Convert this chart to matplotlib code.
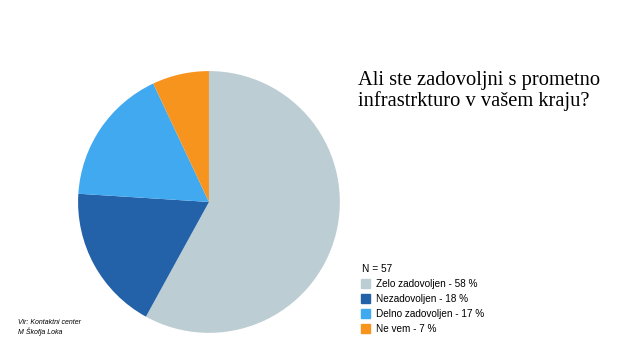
import matplotlib
matplotlib.use("Agg")
import matplotlib.pyplot as plt
from matplotlib.patches import Patch

# Data
labels = ["Zelo zadovoljen", "Nezadovoljen", "Delno zadovoljen", "Ne vem"]
shares = [58, 18, 17, 7]
colors = ["#bccdd3", "#2361a8", "#40a9f0", "#f7941e"]
title = "Ali ste zadovoljni s prometno\ninfrastrkturo v vašem kraju?"
n_label = "N = 57"
source = "Vir: Kontaktni center\nM Škofja Loka"

fig = plt.figure(figsize=(6.4, 3.6), dpi=100)
fig.patch.set_facecolor("white")

ax = fig.add_axes([0.122, 0.075, 0.409, 0.728])
ax.pie(shares, colors=colors, startangle=90, counterclock=False,
       wedgeprops=dict(linewidth=0))
ax.set_xlim(-1, 1)
ax.set_ylim(-1, 1)
ax.set_aspect("equal")

fig.text(0.559, 0.803, title, fontsize=14.8, family="Liberation Serif",
         va="top", ha="left", linespacing=1.05)

# Legend
fig.text(0.566, 0.254, n_label, fontsize=7.3, family="Liberation Sans",
         va="center", ha="left")
handles = [Patch(color=c, label=f"{l} - {s} %") for l, s, c in zip(labels, shares, colors)]
fig.legend(handles=handles, loc="upper left", bbox_to_anchor=(0.564, 0.225),
           frameon=False, prop={"family": "Liberation Sans", "size": 7.2},
           handlelength=0.95, handleheight=1.05, handletextpad=0.6,
           labelspacing=0.5, borderaxespad=0, borderpad=0)

fig.text(0.028, 0.09, source, fontsize=5, style="italic",
         family="Liberation Sans", va="center", ha="left", linespacing=1.2)

fig.savefig("out.png", dpi=100, facecolor="white")
